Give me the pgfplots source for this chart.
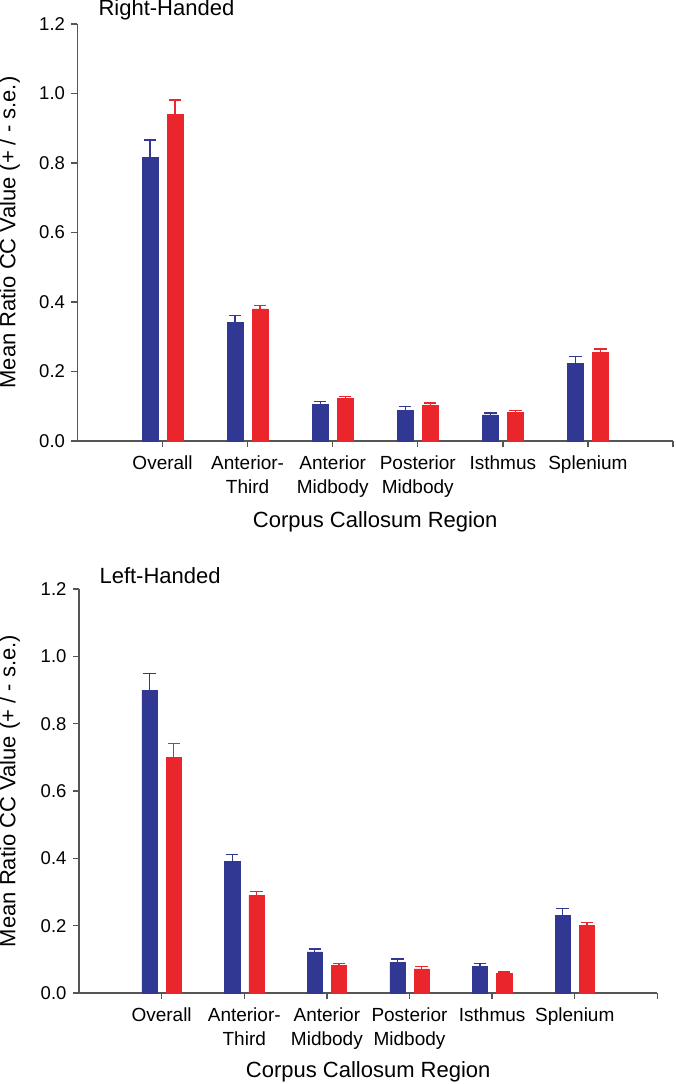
\documentclass[border=0pt]{standalone}
\usepackage{fontspec}
\setmainfont{Liberation Sans}
\usepackage{pgfplots}
\usepackage{pgfplotstable}
\pgfplotsset{compat=1.18}
\definecolor{barblue}{RGB}{48,56,148}
\definecolor{barred}{RGB}{234,38,44}
\definecolor{axgray}{RGB}{85,85,85}

\pgfplotstableread{
x  b      be     r      re
1  0.817  0.049  0.941  0.040
2  0.342  0.019  0.380  0.010
3  0.106  0.007  0.122  0.007
4  0.089  0.011  0.103  0.006
5  0.075  0.006  0.083  0.004
6  0.224  0.019  0.255  0.010
}\righttab
\pgfplotstableread{
x  b      be     r      re
1  0.900  0.050  0.700  0.041
2  0.391  0.020  0.291  0.010
3  0.122  0.009  0.082  0.006
4  0.092  0.009  0.072  0.007
5  0.080  0.007  0.058  0.004
6  0.230  0.022  0.201  0.009
}\lefttab

\pgfplotsset{
  panel/.style={
    scale only axis,
    axis lines=left,
    axis line style={-, draw=axgray, line width=1.3pt},
    tick style={draw=axgray, line width=1.3pt},
    tick align=outside,
    major tick length=6pt,
    ymin=0, ymax=1.2,
    xmin=0, xmax=7,
    ytick={0,0.2,0.4,0.6,0.8,1.0,1.2},
    yticklabel style={/pgf/number format/fixed, /pgf/number format/fixed zerofill, /pgf/number format/precision=1, font=\fontsize{18.5}{22}\selectfont, xshift=-3pt},
    /pgf/number format/assume math mode=true,
    xtick={1,2,3,4,5,6,7},
    xticklabels={Overall,Anterior-\\Third,Anterior\\Midbody,Posterior\\Midbody,Isthmus,Splenium,{}},
    xticklabel style={align=center, font=\fontsize{19}{24}\selectfont, yshift=-5pt},
    ylabel={Mean Ratio CC Value (+ / - s.e.)},
    ylabel style={font=\fontsize{22}{26}\selectfont, anchor=center},
    xlabel={Corpus Callosum Region},
    xlabel style={anchor=base, font=\fontsize{22}{26}\selectfont},
    title style={anchor=base west, font=\fontsize{22}{26}\selectfont},
    clip=false,
    blues/.style={fill=barblue, draw=barblue, line width=0.4pt,
      error bars/.cd, y dir=plus, y explicit,
      error bar style={draw=barblue, line width=1.3pt},
      error mark options={draw=barblue, line width=1.3pt, mark size=6.2pt, rotate=90}},
    reds/.style={fill=barred, draw=barred, line width=0.4pt,
      error bars/.cd, y dir=plus, y explicit,
      error bar style={draw=barred, line width=1.3pt},
      error mark options={draw=barred, line width=1.3pt, mark size=6.2pt, rotate=90}},
  },
}

\begin{document}
\begin{tikzpicture}
\useasboundingbox (0,0) rectangle (675pt,-1084pt);
\begin{axis}[panel,
  at={(77.5pt,-441pt)}, anchor=south west,
  width=595.5pt, height=417pt,
  ybar=9pt, bar width=16pt,
  title={Right-Handed},
  title style={at={(axis description cs:0.0294,1.005)}},
  ylabel style={at={(axis description cs:-0.114,0.5)}},
  xlabel style={at={(axis description cs:0.5,-0.207)}},
]
\addplot[blues] table[x=x, y=b, y error=be] {\righttab};
\addplot[reds] table[x=x, y=r, y error=re] {\righttab};
\end{axis}

\begin{axis}[panel,
  at={(79pt,-993pt)}, anchor=south west,
  width=578.4pt, height=404pt,
  ybar=9pt, bar width=15.2pt,
  title={Left-Handed},
  title style={at={(axis description cs:0.0294,0.998)}},
  ylabel style={at={(axis description cs:-0.120,0.5)}},
  xlabel style={at={(axis description cs:0.5,-0.2097)}},
]
\addplot[blues] table[x=x, y=b, y error=be] {\lefttab};
\addplot[reds] table[x=x, y=r, y error=re] {\lefttab};
\end{axis}
\end{tikzpicture}
\end{document}
